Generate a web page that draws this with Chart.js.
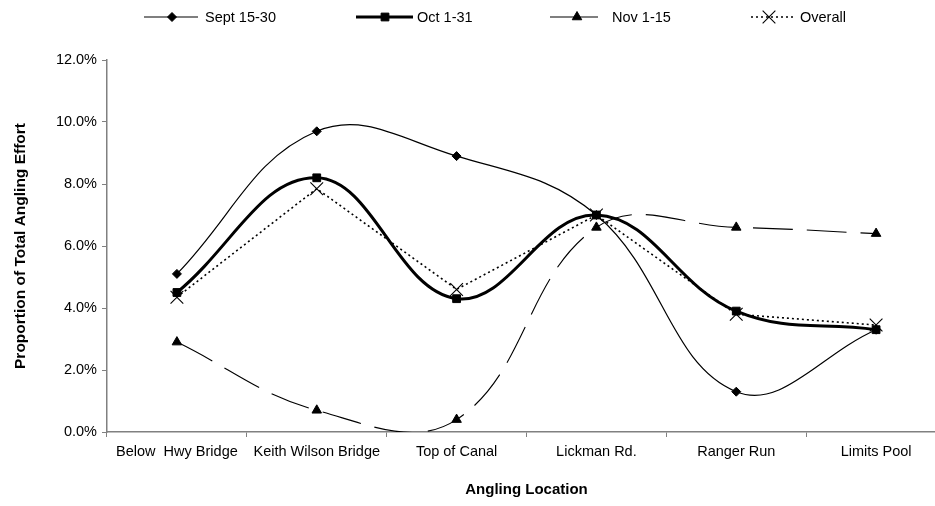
<!DOCTYPE html>
<html><head><meta charset="utf-8">
<script src="https://cdn.jsdelivr.net/npm/chart.js@4.4.1/dist/chart.umd.min.js"></script>
<style>
html,body{margin:0;padding:0;overflow:hidden;background:#fff;width:935px;height:506px}
#wrap{width:1000px;height:506px;position:relative}
</style>
</head><body><div id="wrap"><canvas id="c" width="1000" height="506"></canvas></div>
<script>
const categories = ['Below  Hwy Bridge', 'Keith Wilson Bridge', 'Top of Canal', 'Lickman Rd.', 'Ranger Run', 'Limits Pool'];
const seriesLabels = ['Sept 15-30', 'Oct 1-31', 'Nov 1-15', 'Overall'];
const septValues = [5.1, 9.7, 8.9, 7.0, 1.3, 3.3];
const octValues = [4.5, 8.2, 4.3, 7.0, 3.9, 3.3];
const novValues = [2.9, 0.7, 0.4, 6.6, 6.6, 6.4];
const overallValues = [4.35, 7.85, 4.6, 7.0, 3.8, 3.45];
const yTickValues = [0, 2, 4, 6, 8, 10, 12];
const xTitle = 'Angling Location';
const yTitle = 'Proportion of Total Angling Effort';

const FONT = "'Liberation Sans', Arial, sans-serif";
const AXIS = '#808080';

// legend sample geometry (style only)
const legendSamples = [
  {x0: 144, x1: 198, mx: 172, tx: 205},
  {x0: 356, x1: 413, mx: 385, tx: 417},
  {x0: 550, x1: 598, mx: 577, tx: 612},
  {x0: 751, x1: 796, mx: 769, tx: 800}
];
const legendY = 17;

const customLegend = {
  id: 'customLegend',
  afterDraw(chart) {
    const ctx = chart.ctx;
    chart.data.datasets.forEach((ds, i) => {
      const s = legendSamples[i];
      ctx.save();
      ctx.strokeStyle = '#000';
      ctx.lineWidth = ds.borderWidth;
      ctx.setLineDash(ds.legendDash || []);
      ctx.beginPath();
      ctx.moveTo(s.x0, legendY);
      ctx.lineTo(s.x1, legendY);
      ctx.stroke();
      ctx.setLineDash([]);
      ctx.fillStyle = '#000';
      ctx.lineWidth = ds.pointBorderWidth;
      Chart.helpers.drawPoint(ctx, {pointStyle: ds.pointStyle, radius: ds.pointRadius, rotation: 0, borderWidth: ds.pointBorderWidth}, s.mx, legendY);
      ctx.font = '14.5px ' + FONT;
      ctx.textBaseline = 'middle';
      ctx.textAlign = 'left';
      ctx.fillText(ds.label, s.tx, legendY + 1);
      ctx.restore();
    });
  }
};

const common = {pointBackgroundColor: '#000', pointBorderColor: '#000', borderColor: '#000', backgroundColor: '#000', fill: false, cubicInterpolationMode: 'default', capBezierPoints: false};

new Chart(document.getElementById('c'), {
  type: 'line',
  data: {
    labels: categories,
    datasets: [
      Object.assign({}, common, {label: seriesLabels[0], data: septValues, borderWidth: 1.2, tension: 0.4, pointStyle: 'rectRot', pointRadius: 4.5, pointBorderWidth: 1, order: 3}),
      Object.assign({}, common, {label: seriesLabels[1], data: octValues, borderWidth: 3, tension: 0.4, pointStyle: 'rect', pointRadius: 5.5, pointBorderWidth: 1, order: 1}),
      Object.assign({}, common, {label: seriesLabels[2], data: novValues, borderWidth: 1.1, tension: 0.4, borderDash: [40, 14], pointStyle: 'triangle', pointRadius: 5.5, pointBorderWidth: 1, order: 4}),
      Object.assign({}, common, {label: seriesLabels[3], data: overallValues, borderWidth: 1.6, tension: 0, borderDash: [2, 3], legendDash: [2, 3], pointStyle: 'crossRot', pointRadius: 9, pointBorderWidth: 1.1, order: 2})
    ]
  },
  options: {
    responsive: false,
    animation: false,
    devicePixelRatio: 1,
    elements: {line: {capBezierPoints: false}},
    layout: {padding: {left: 0, right: 54, top: 60, bottom: 0}},
    plugins: {legend: {display: false}, tooltip: {enabled: false}},
    scales: {
      x: {
        offset: true,
        grid: {offset: true, drawOnChartArea: false, drawTicks: true, tickLength: 5, color: AXIS, lineWidth: 1},
        border: {display: true, color: AXIS, width: 1.5},
        ticks: {color: '#000', font: {family: FONT, size: 14.5}, padding: 6, maxRotation: 0, autoSkip: false},
        title: {display: true, text: xTitle, color: '#000', font: {family: FONT, size: 15, weight: 'bold'}, padding: {top: 0, bottom: 7}},
        afterFit(scale) { scale.height = 74; }
      },
      y: {
        min: 0, max: 12,
        afterBuildTicks(scale) { scale.ticks = yTickValues.map(v => ({value: v})); },
        grid: {drawOnChartArea: false, drawTicks: true, tickLength: 5, color: AXIS, lineWidth: 1},
        border: {display: true, color: AXIS, width: 1.5},
        ticks: {color: '#000', font: {family: FONT, size: 14.5}, padding: 5, callback: v => v.toFixed(1) + '%'},
        title: {display: true, text: yTitle, color: '#000', font: {family: FONT, size: 15.5, weight: 'bold'}, padding: {top: 11, bottom: 0}},
        afterFit(scale) { scale.width = 107; }
      }
    }
  },
  plugins: [customLegend]
});
</script>
</body></html>
